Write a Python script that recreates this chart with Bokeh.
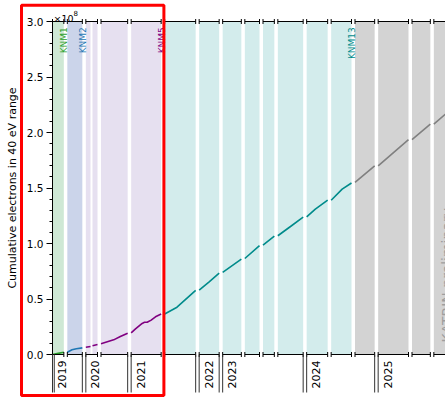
import math
import numpy as np
import pandas as pd
from bokeh.plotting import figure
from bokeh.models import Range1d, SingleIntervalTicker, NumeralTickFormatter, Label
from bokeh.core.properties import value
from bokeh.embed import file_html
from bokeh.resources import INLINE

# ---------------------------------------------------------------- data
# Periods kept on the broken time axis; everything in between is cut out
seg_start = ["2019-04-10", "2019-09-27", "2020-03-24", "2020-06-10", "2021-01-20",
             "2021-06-25", "2022-04-01", "2023-03-01", "2023-05-20", "2023-08-01",
             "2023-09-20", "2024-01-20", "2024-04-15", "2024-09-01", "2025-01-15",
             "2025-05-10", "2025-08-01"]
seg_end = ["2019-05-14", "2019-11-11", "2020-04-28", "2020-08-29", "2021-04-20",
           "2021-09-26", "2022-05-31", "2023-04-26", "2023-07-03", "2023-09-04",
           "2023-12-05", "2024-03-23", "2024-06-15", "2024-10-30", "2025-04-16",
           "2025-07-04", "2025-09-30"]

# Shaded campaign blocks
band_start = ["2019-04-10", "2019-09-27", "2020-03-24", "2020-04-13", "2020-06-10",
              "2021-01-20", "2021-06-25", "2022-04-01", "2023-03-01", "2023-05-20",
              "2023-08-01", "2023-09-20", "2024-01-20", "2024-04-15", "2024-09-01",
              "2025-01-15", "2025-05-10", "2025-08-01"]
band_end = ["2019-05-14", "2019-11-11", "2020-04-07", "2020-04-28", "2020-08-29",
            "2021-04-20", "2021-09-26", "2022-05-31", "2023-04-26", "2023-07-03",
            "2023-09-04", "2023-12-05", "2024-03-23", "2024-06-15", "2024-10-30",
            "2025-04-16", "2025-07-04", "2025-09-30"]
band_phase = ["KNM1", "KNM2", "KNM3-5", "KNM3-5", "KNM3-5",
              "KNM3-5", "KNM6-13", "KNM6-13", "KNM6-13", "KNM6-13",
              "KNM6-13", "KNM6-13", "KNM6-13", "KNM6-13", "projection",
              "projection", "projection", "projection"]

# Cumulative electrons in the 40 eV window (units of 1e8)
knm1_dates = ["2019-04-10", "2019-04-27", "2019-05-14"]
knm1_e = [0.0, 0.010, 0.020]

knm2_dates = ["2019-09-27", "2019-10-11", "2019-10-24", "2019-11-11"]
knm2_e = [0.021, 0.042, 0.052, 0.060]

knm3a_dates = ["2020-03-24", "2020-04-07"]
knm3a_e = [0.066, 0.072]
knm3b_dates = ["2020-04-13", "2020-04-28"]
knm3b_e = [0.078, 0.090]

knm4_dates = ["2020-06-10", "2020-07-18", "2020-08-07", "2020-08-29"]
knm4_e = [0.096, 0.132, 0.162, 0.192]

knm5_dates = ["2021-01-20", "2021-02-02", "2021-02-22", "2021-03-01", "2021-03-09",
              "2021-03-21", "2021-04-03", "2021-04-20"]
knm5_e = [0.195, 0.230, 0.280, 0.290, 0.290, 0.310, 0.340, 0.365]

knm6_13_dates = ["2021-06-25", "2021-08-01", "2021-09-26",
                 "2022-04-01", "2022-05-01", "2022-05-31",
                 "2023-03-01", "2023-04-26",
                 "2023-05-20", "2023-07-03",
                 "2023-08-01", "2023-09-04",
                 "2023-09-20", "2023-10-28", "2023-12-05",
                 "2024-01-20", "2024-02-15", "2024-03-23",
                 "2024-04-15", "2024-05-18", "2024-06-15"]
knm6_13_e = [0.365, 0.426, 0.577,
             0.580, 0.655, 0.733,
             0.740, 0.860,
             0.865, 0.980,
             0.985, 1.066,
             1.070, 1.153, 1.237,
             1.240, 1.310, 1.390,
             1.390, 1.490, 1.545]

proj_dates = ["2024-09-01", "2024-10-30", "2025-01-15", "2025-04-16",
              "2025-05-10", "2025-07-04", "2025-08-01", "2025-09-30"]
proj_e = [1.550, 1.700, 1.700, 1.935, 1.935, 2.075, 2.075, 2.230]

# Campaign names written at the top of their blocks
label_text = ["KNM1", "KNM2", "KNM5", "KNM13"]
label_date = ["2019-05-14", "2019-11-11", "2021-04-20", "2024-06-15"]
label_phase = ["KNM1", "KNM2", "KNM3-5", "KNM6-13"]

years = [2019, 2020, 2021, 2022, 2023, 2024, 2025]

PHASE_FILL = {"KNM1": "#cee8d5", "KNM2": "#cbd4ea", "KNM3-5": "#e6e0f0",
              "KNM6-13": "#d3ecec", "projection": "#d3d3d3"}
PHASE_LINE = {"KNM1": "#2ca02c", "KNM2": "#1f77b4", "KNM3-5": "#800080",
              "KNM6-13": "#008b8b", "projection": "#808080"}

# ---------------------------------------------------------------- geometry
W, H = 445, 398
FRAME_LEFT, FRAME_TOP, FRAME_BOTTOM = 52, 21, 354
Y_MAX = 3.0
DAYS_PER_PX = 3.0
GAP = 3.5 * DAYS_PER_PX            # width of a cut, in axis units
PX_PER_UNIT = (FRAME_BOTTOM - FRAME_TOP) / Y_MAX
FONT = "DejaVu Sans"

starts = pd.to_datetime(seg_start)
ends = pd.to_datetime(seg_end)
offsets = []
acc = 0.0
for s, e in zip(starts, ends):
    offsets.append(acc)
    acc += (e - s).days + GAP


def seg_of(d):
    t = pd.Timestamp(d)
    for i, (s, e) in enumerate(zip(starts, ends)):
        if s <= t <= e:
            return i
    raise ValueError(d)


def to_axis(d):
    i = seg_of(d)
    return offsets[i] + (pd.Timestamp(d) - starts[i]).days


def broken(dates, vals):
    xs, ys, prev = [], [], None
    for d, v in zip(dates, vals):
        i = seg_of(d)
        if prev is not None and i != prev:
            xs.append(np.nan)
            ys.append(np.nan)
        xs.append(to_axis(d))
        ys.append(v)
        prev = i
    return xs, ys


def px_x(px):
    return (px - FRAME_LEFT) * DAYS_PER_PX


def px_y(py):
    return (FRAME_BOTTOM - py) / PX_PER_UNIT


# ---------------------------------------------------------------- figure
p = figure(width=W, height=H, x_range=Range1d(0, px_x(W)), y_range=Range1d(0, Y_MAX),
           x_axis_location=None, y_axis_location="left",
           output_backend="svg", toolbar_location=None,
           min_border_left=FRAME_LEFT, min_border_right=0,
           min_border_top=FRAME_TOP, min_border_bottom=H - FRAME_BOTTOM)
p.outline_line_color = None
p.background_fill_color = "white"
p.border_fill_color = "white"
p.xgrid.visible = False
p.ygrid.visible = False

ax = p.yaxis[0]
ax.ticker = SingleIntervalTicker(interval=0.5, num_minor_ticks=5)
ax.formatter = NumeralTickFormatter(format="0.0")
ax.axis_label = "Cumulative electrons in 40 eV range"
ax.axis_label_text_font = FONT
ax.axis_label_text_font_size = "11px"
ax.axis_label_text_font_style = "normal"
ax.axis_label_text_color = "black"
ax.axis_label_standoff = 5
ax.major_label_text_font = FONT
ax.major_label_text_font_size = "10.5px"
ax.major_label_text_color = "black"
ax.major_label_standoff = 3
ax.major_tick_out = 6
ax.major_tick_in = 0
ax.minor_tick_out = 3
ax.minor_tick_in = 0
ax.axis_line_color = "black"
ax.major_tick_line_color = "black"
ax.minor_tick_line_color = "black"

# campaign shading
p.quad(left=[to_axis(d) for d in band_start], right=[to_axis(d) for d in band_end],
       bottom=0, top=Y_MAX, fill_color=[PHASE_FILL[k] for k in band_phase],
       line_color=None)

# cumulative statistics, one line per run
runs = [(knm1_dates, knm1_e, "KNM1"), (knm2_dates, knm2_e, "KNM2"),
        (knm3a_dates, knm3a_e, "KNM3-5"), (knm3b_dates, knm3b_e, "KNM3-5"),
        (knm4_dates, knm4_e, "KNM3-5"), (knm5_dates, knm5_e, "KNM3-5"),
        (knm6_13_dates, knm6_13_e, "KNM6-13"), (proj_dates, proj_e, "projection")]
for dates, vals, phase in runs:
    xs, ys = broken(dates, vals)
    p.line(xs, ys, line_color=PHASE_LINE[phase], line_width=1.6)

# campaign names
p.text(x=[to_axis(d) for d in label_date], y=Y_MAX - 5.7 / PX_PER_UNIT,
       text=label_text, angle=math.pi / 2, text_align="right",
       text_baseline="alphabetic", x_offset=0.5,
       text_color=[PHASE_LINE[k] for k in label_phase],
       text_font=value(FONT), text_font_size="9px")

# frame pieces of every kept period, with end marks at the cuts
seg_x0 = [to_axis(d) for d in seg_start]
seg_x1 = [to_axis(d) for d in seg_end]
half_tick = 2.5 / PX_PER_UNIT
for yv in (0.0, Y_MAX):
    p.segment(x0=seg_x0, y0=yv, x1=seg_x1, y1=yv, line_color="black",
              line_width=1, level="overlay")
    p.segment(x0=seg_x0 + seg_x1, y0=yv - half_tick, x1=seg_x0 + seg_x1,
              y1=yv + half_tick, line_color="black", line_width=1, level="overlay")

# year marks below the axis
year_line_x, year_label_x = [], []
for yr in years:
    first = next(i for i, s in enumerate(starts) if s.year == yr)
    x_here = to_axis(seg_start[first])
    year_label_x.append(x_here)
    year_line_x.append(x_here)
    year_line_x.append(to_axis(seg_end[first - 1]) if first > 0 else x_here + 0.5 * GAP)
p.segment(x0=year_line_x, y0=0, x1=year_line_x, y1=px_y(392),
          line_color="#333333", line_width=1, level="overlay")
p.text(x=year_label_x, y=0, text=[str(y) for y in years], x_offset=9.5, y_offset=6,
       angle=math.pi / 2, text_align="right", text_baseline="middle",
       text_font=value(FONT), text_font_size="11px", text_color="black",
       level="overlay")

# scale factor of the y axis
p.text(x=[0], y=[Y_MAX], text=["×10"], x_offset=1, y_offset=-3.5,
       text_baseline="alphabetic", text_align="left", text_font=value(FONT),
       text_font_size="9.5px", text_color="black", level="overlay")
p.text(x=[0], y=[Y_MAX], text=["8"], x_offset=21, y_offset=-8.5,
       text_baseline="alphabetic", text_align="left", text_font=value(FONT),
       text_font_size="7px", text_color="black", level="overlay")

# watermark
p.add_layout(Label(x=px_x(446.2), y=px_y(342), text="KATRIN preliminary",
                   angle=math.pi / 2, text_align="left", text_baseline="alphabetic",
                   text_font=FONT, text_font_size="14px", text_color="#9e9e9e"))

# highlight of the first campaigns
p.quad(left=[px_x(21)], right=[px_x(163.4)], top=[px_y(4.7)], bottom=[px_y(395)],
       fill_color=None, line_color="#ff0000", line_width=3, level="overlay")

open("out.html", "w").write(file_html(p, INLINE))
